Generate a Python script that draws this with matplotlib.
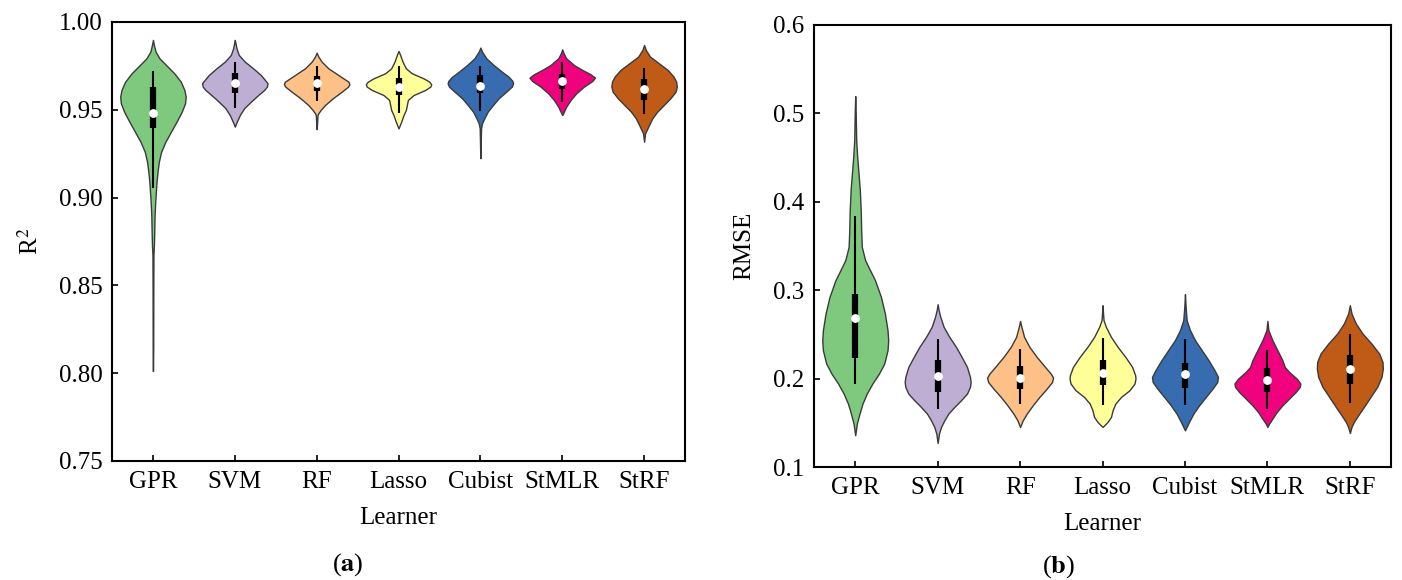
import numpy as np
import matplotlib.pyplot as plt

plt.rcParams['font.family'] = ['Liberation Serif', 'DejaVu Serif']
plt.rcParams['mathtext.fontset'] = 'stix'
plt.rcParams['font.size'] = 18

learners = ['GPR', 'SVM', 'RF', 'Lasso', 'Cubist', 'StMLR', 'StRF']
colors = ['#7fc97f', '#beaed4', '#fdc086', '#ffff99', '#386cb0', '#f0027f', '#bf5b17']

# violin outlines: (value, relative half-width)
# --- R2 ---
r2_gpr = [(0.9898, 0), (0.9869, 3), (0.9831, 8), (0.9793, 20), (0.9755, 40), (0.9708, 65),
          (0.9660, 85), (0.9613, 96), (0.9575, 100), (0.9537, 98), (0.9489, 88), (0.9432, 72),
          (0.9375, 55), (0.9318, 38), (0.9261, 25), (0.9204, 18), (0.9147, 14), (0.9091, 11),
          (0.9034, 9), (0.8977, 7), (0.8901, 5), (0.8806, 4), (0.8730, 3), (0.8673, 1.5),
          (0.8521, 1.2), (0.8331, 1), (0.8142, 0.8), (0.8012, 0)]
r2_svm = [(0.9898, 0), (0.9879, 2), (0.9850, 5), (0.9812, 12), (0.9774, 30), (0.9736, 55),
          (0.9698, 78), (0.9670, 90), (0.9651, 98), (0.9632, 96), (0.9613, 88), (0.9584, 70),
          (0.9546, 48), (0.9509, 28), (0.9470, 15), (0.9432, 6), (0.9404, 0)]
r2_rf = [(0.9825, 0), (0.9803, 5), (0.9774, 15), (0.9736, 35), (0.9698, 65), (0.9660, 95),
         (0.9647, 98), (0.9632, 94), (0.9603, 75), (0.9565, 48), (0.9527, 25), (0.9499, 12),
         (0.9480, 5), (0.9470, 2.5), (0.9432, 1.5), (0.9389, 0)]
r2_lasso = [(0.9835, 0), (0.9812, 5), (0.9774, 12), (0.9736, 22), (0.9708, 40), (0.9679, 75),
            (0.9660, 92), (0.9645, 98), (0.9632, 95), (0.9613, 80), (0.9584, 45), (0.9556, 28),
            (0.9527, 25), (0.9499, 22), (0.9470, 15), (0.9432, 8), (0.9394, 0)]
r2_cubist = [(0.9854, 0), (0.9831, 5), (0.9793, 18), (0.9755, 40), (0.9717, 65), (0.9689, 85),
             (0.9664, 97), (0.9651, 99), (0.9632, 95), (0.9603, 78), (0.9565, 55), (0.9527, 38),
             (0.9489, 22), (0.9452, 12), (0.9423, 5), (0.9394, 2), (0.9318, 1.2), (0.9224, 0)]
r2_stmlr = [(0.9844, 0), (0.9822, 4), (0.9793, 12), (0.9755, 35), (0.9727, 60), (0.9702, 85),
            (0.9683, 98), (0.9664, 90), (0.9632, 65), (0.9594, 42), (0.9556, 25), (0.9518, 12),
            (0.9489, 5), (0.9470, 0)]
r2_strf = [(0.9869, 0), (0.9841, 5), (0.9803, 18), (0.9765, 45), (0.9727, 72), (0.9689, 90),
           (0.9660, 98), (0.9632, 100), (0.9603, 96), (0.9565, 80), (0.9527, 60), (0.9489, 40),
           (0.9451, 25), (0.9413, 15), (0.9385, 8), (0.9366, 3), (0.9318, 0)]

r2_lo = [0.9053, 0.9512, 0.9550, 0.9484, 0.9493, 0.9546, 0.9474]
r2_q1 = [0.9398, 0.9598, 0.9607, 0.9584, 0.9594, 0.9618, 0.9556]
r2_med = [0.9484, 0.9651, 0.9651, 0.9632, 0.9637, 0.9664, 0.9618]
r2_q3 = [0.9632, 0.9708, 0.9693, 0.9683, 0.9698, 0.9702, 0.9675]
r2_hi = [0.9721, 0.9770, 0.9751, 0.9751, 0.9751, 0.9770, 0.9740]

# --- RMSE ---
rmse_gpr = [(0.5196, 0), (0.5000, 1.5), (0.4698, 3), (0.4509, 6), (0.4320, 10), (0.4132, 14),
            (0.3868, 17), (0.3679, 18), (0.3490, 20), (0.3340, 30), (0.3226, 45), (0.3113, 60),
            (0.2924, 78), (0.2736, 90), (0.2547, 98), (0.2434, 100), (0.2321, 98), (0.2170, 88),
            (0.2057, 72), (0.1944, 52), (0.1830, 35), (0.1717, 22), (0.1604, 13), (0.1491, 5),
            (0.1359, 0)]
rmse_svm = [(0.2841, 0), (0.2774, 3), (0.2698, 8), (0.2585, 18), (0.2472, 35), (0.2359, 55),
            (0.2245, 72), (0.2132, 88), (0.2019, 97), (0.1962, 99), (0.1906, 97), (0.1830, 88),
            (0.1755, 70), (0.1679, 50), (0.1604, 32), (0.1528, 20), (0.1453, 10), (0.1378, 4),
            (0.1272, 0)]
rmse_rf = [(0.2653, 0), (0.2585, 4), (0.2472, 12), (0.2359, 28), (0.2245, 50), (0.2132, 75),
           (0.2057, 92), (0.2012, 99), (0.1962, 96), (0.1887, 80), (0.1793, 58), (0.1698, 38),
           (0.1604, 20), (0.1528, 8), (0.1453, 0)]
rmse_lasso = [(0.2830, 0), (0.2736, 1.5), (0.2660, 3), (0.2585, 10), (0.2472, 25), (0.2359, 45),
              (0.2245, 68), (0.2132, 88), (0.2038, 97), (0.2000, 98), (0.1944, 95), (0.1868, 80),
              (0.1793, 55), (0.1717, 38), (0.1642, 30), (0.1566, 25), (0.1510, 15), (0.1453, 0)]
rmse_cubist = [(0.2955, 0), (0.2811, 2), (0.2660, 5), (0.2547, 15), (0.2434, 30), (0.2321, 50),
               (0.2208, 70), (0.2094, 88), (0.2019, 98), (0.1962, 96), (0.1887, 82), (0.1793, 62),
               (0.1698, 42), (0.1604, 25), (0.1510, 12), (0.1415, 0)]
rmse_stmlr = [(0.2653, 0), (0.2547, 3), (0.2434, 15), (0.2321, 30), (0.2208, 45), (0.2132, 52),
              (0.2076, 65), (0.2000, 88), (0.1944, 99), (0.1906, 97), (0.1849, 85), (0.1774, 65),
              (0.1698, 45), (0.1623, 28), (0.1547, 15), (0.1491, 5), (0.1453, 0)]
rmse_strf = [(0.2830, 0), (0.2736, 5), (0.2623, 18), (0.2510, 38), (0.2396, 65), (0.2283, 88),
             (0.2189, 98), (0.2113, 99), (0.2019, 95), (0.1906, 82), (0.1793, 62), (0.1679, 42),
             (0.1585, 25), (0.1510, 12), (0.1453, 5), (0.1385, 0)]

rmse_lo = [0.1944, 0.1653, 0.1717, 0.1698, 0.1698, 0.1661, 0.1725]
rmse_q1 = [0.2238, 0.1849, 0.1887, 0.1925, 0.1898, 0.1849, 0.1936]
rmse_med = [0.2680, 0.2034, 0.2012, 0.2064, 0.2049, 0.1981, 0.2113]
rmse_q3 = [0.2962, 0.2215, 0.2140, 0.2215, 0.2177, 0.2125, 0.2264]
rmse_hi = [0.3838, 0.2453, 0.2340, 0.2464, 0.2453, 0.2321, 0.2502]


def draw(ax, shapes, lo, q1, med, q3, hi):
    pos = np.arange(len(learners))
    stats = []
    for s, m in zip(shapes, med):
        arr = np.array(s, dtype=float)
        stats.append(dict(coords=arr[:, 0], vals=arr[:, 1], mean=m, median=m,
                          min=arr[:, 0].min(), max=arr[:, 0].max(), quantiles=[]))
    parts = ax.violin(stats, positions=pos, widths=0.8, showmeans=False,
                      showextrema=False, showmedians=False)
    for body, c in zip(parts['bodies'], colors):
        body.set_facecolor(c)
        body.set_edgecolor('#3a3a3a')
        body.set_linewidth(1.0)
        body.set_alpha(1)
    ax.vlines(pos, lo, hi, color='k', lw=1.5, zorder=3)
    ax.vlines(pos, q1, q3, color='k', lw=4.5, zorder=3)
    ax.scatter(pos, med, s=40, color='white', zorder=4, linewidths=0)
    ax.set_xticks(pos)
    ax.set_xticklabels(learners)
    ax.set_xlim(-0.5, len(learners) - 0.5)
    ax.tick_params(direction='in', length=4, width=1.2)
    ax.tick_params(axis='x', pad=7)
    ax.tick_params(axis='y', pad=7)
    for sp in ax.spines.values():
        sp.set_linewidth(1.5)
    ax.set_xlabel('Learner', labelpad=10)


fig = plt.figure(figsize=(14.02, 5.80), dpi=100)
ax1 = fig.add_axes([0.0799, 0.2052, 0.4087, 0.7569])
ax2 = fig.add_axes([0.5806, 0.1948, 0.4116, 0.7621])

draw(ax1, [r2_gpr, r2_svm, r2_rf, r2_lasso, r2_cubist, r2_stmlr, r2_strf],
     r2_lo, r2_q1, r2_med, r2_q3, r2_hi)
ax1.set_ylim(0.75, 1.00)
ax1.set_yticks(np.arange(0.75, 1.001, 0.05))
ax1.set_yticklabels(['%.2f' % v for v in np.arange(0.75, 1.001, 0.05)])
ax1.set_ylabel('R$^2$', labelpad=11)

draw(ax2, [rmse_gpr, rmse_svm, rmse_rf, rmse_lasso, rmse_cubist, rmse_stmlr, rmse_strf],
     rmse_lo, rmse_q1, rmse_med, rmse_q3, rmse_hi)
ax2.set_ylim(0.1, 0.6)
ax2.set_yticks(np.arange(0.1, 0.601, 0.1))
ax2.set_yticklabels(['%.1f' % v for v in np.arange(0.1, 0.601, 0.1)])
ax2.set_ylabel('RMSE', labelpad=13)

fig.text(348 / 1402, 1 - 565 / 580, r'($\mathbf{a}$)', ha='center', va='center', fontsize=19)
fig.text(1059 / 1402, 1 - 567 / 580, r'($\mathbf{b}$)', ha='center', va='center', fontsize=19)

fig.savefig('out.png', dpi=100)
